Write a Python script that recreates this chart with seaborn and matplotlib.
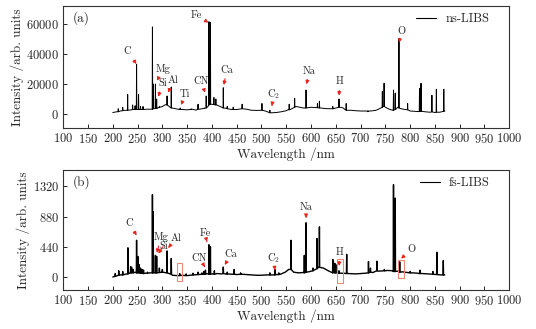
import numpy as np
import pandas as pd
import matplotlib
matplotlib.use("Agg")
import matplotlib.pyplot as plt
import seaborn as sns
from matplotlib.patches import Rectangle

# ---------------- data ----------------
# ns-LIBS: baseline knots
ns_base_wl = [200, 208, 215, 222, 230, 238, 245, 260, 268, 275, 290, 300, 306, 312, 320, 330, 340,
              350, 360, 368, 375, 385, 392, 400, 410, 420, 430, 440, 450, 460, 470, 480, 490, 500,
              510, 520, 530, 540, 550, 555, 562, 570, 578, 585, 600, 610, 620, 630, 640, 650, 660,
              665, 680, 690, 700, 710, 720, 730, 735, 745, 752, 758, 765, 775, 782, 790, 800,
              810, 818, 830, 840, 850, 860, 870]
ns_base_int = [1000, 1500, 2000, 2400, 2500, 2800, 3000, 3000, 3200, 3200, 3800, 5000, 6200, 5500, 4000, 3300, 3000,
               2800, 3200, 2600, 3200, 4000, 5000, 6500, 6000, 4500, 3800, 3000, 3000, 3500, 3200, 2500, 2400, 2500,
               1800, 800, 1000, 1500, 2200, 3000, 3600, 5000, 4500, 4000, 4500, 4300, 4000, 3600, 3500, 4000, 4500,
               4000, 2500, 2200, 2000, 2000, 2000, 2400, 3000, 5000, 4200, 3200, 2500, 4500, 3500, 3000, 2000,
               1800, 1600, 1500, 1200, 1000, 1200, 2000]
# ns-LIBS: emission lines (position, top, local base)
ns_peak_wl = [211, 220, 230, 240, 245, 248, 252, 256, 261, 280, 281.5, 286, 288.5, 294, 309.5, 318,
              336, 358, 372, 385, 388.5, 394, 397, 404, 408, 423, 431, 443, 461, 501, 517,
              556, 567, 590, 613, 617, 644, 656.5, 671, 715, 744, 747.5, 766.5, 770, 777.5,
              795, 819, 822, 844, 853, 868]
ns_peak_top = [3500, 4500, 13000, 6000, 5500, 33000, 13000, 5000, 5000, 58000, 20000, 20000, 10000, 5000, 12000, 18000,
               4000, 3500, 6500, 9000, 12000, 61500, 61000, 11000, 10000, 17500, 5000, 4500, 6500, 7000, 2500,
               6500, 10500, 16000, 7000, 8500, 5000, 10000, 7000, 1500, 15000, 20500, 16000, 14000, 50500,
               7000, 17000, 20500, 12500, 16500, 16500]
ns_peak_base = [1500, 2200, 2500, 3000, 3000, 3000, 3000, 3000, 3000, 3200, 3500, 3800, 3800, 4500, 6000, 4000,
                3000, 3000, 3200, 3800, 4000, 6000, 6500, 6300, 6000, 4000, 3500, 3000, 3500, 2500, 800,
                2800, 4500, 4000, 4200, 4000, 3500, 4500, 2500, 2000, 4500, 5000, 2500, 3000, 4000,
                2800, 1800, 1800, 1400, 1200, 1800]

# fs-LIBS: baseline knots
fs_base_wl = [200, 205, 215, 225, 235, 245, 255, 265, 275, 290, 300, 310, 320, 330, 340, 350, 360,
              370, 380, 390, 400, 410, 420, 430, 440, 450, 460, 470, 480, 490, 500, 510, 520, 530,
              540, 548, 555, 565, 575, 585, 595, 605, 615, 625, 635, 645, 655, 665, 675, 690, 700,
              710, 725, 735, 745, 755, 765, 775, 785, 795, 805, 815, 825, 835, 845, 855, 862, 870]
fs_base_int = [0, 10, 30, 40, 60, 70, 60, 55, 60, 60, 70, 45, 25, 20, 25, 20, 30,
               35, 40, 50, 45, 50, 45, 40, 40, 35, 40, 35, 30, 25, 25, 30, 30, 35,
               45, 70, 110, 70, 60, 65, 75, 95, 140, 130, 90, 70, 60, 55, 50, 45, 50,
               55, 65, 85, 90, 95, 90, 85, 75, 65, 60, 55, 50, 45, 40, 35, 30, 30]
# fs-LIBS: emission lines (position, top, local base)
fs_peak_wl = [205, 212, 220, 230.5, 236, 238, 241, 248, 250.5, 253, 256, 259, 262, 270, 280, 281.5, 286, 288.5, 294,
              300, 309.5, 318, 335, 348, 362, 372, 380, 384, 387, 394, 397, 405, 423, 431, 445, 458, 470,
              490, 517, 527, 535, 559.5, 586.5, 590, 604, 612, 617, 644, 648, 650, 656.5, 672, 690,
              716, 720, 733, 748, 766.5, 770, 779, 800, 820, 846, 854, 867]
fs_peak_top = [50, 90, 80, 425, 150, 140, 110, 535, 300, 180, 130, 110, 100, 70, 1200, 950, 315, 300, 130,
               110, 380, 270, 50, 45, 55, 70, 60, 80, 100, 470, 440, 90, 145, 70, 110, 60, 60,
               45, 60, 110, 60, 535, 315, 790, 130, 560, 730, 255, 200, 180, 90, 330, 70,
               225, 130, 230, 110, 1345, 1150, 220, 80, 100, 80, 360, 240]
fs_peak_base = [10, 25, 30, 45, 60, 60, 60, 60, 60, 60, 55, 55, 50, 55, 60, 60, 60, 60, 65,
                70, 60, 40, 20, 20, 30, 35, 40, 40, 40, 40, 40, 40, 50, 45, 40, 40, 35,
                25, 30, 30, 35, 110, 60, 70, 90, 120, 140, 60, 60, 60, 55, 50, 45,
                60, 70, 90, 90, 80, 80, 70, 60, 50, 40, 35, 30]

# annotations: label, label centre (wl, intensity), arrow tip (wl, intensity)
ns_labels = ["C", "Mg", "Si", "Al", "Ti", "CN", "Fe", "Ca", "C$_2$", "Na", "H", "O"]
ns_lab_pos = [(229, 41500), (302, 29800), (300, 20500), (321, 22700), (346, 13100), (379, 21800),
              (368, 66000), (430, 29300), (525, 13100), (597, 28700), (657, 21500), (782, 54900)]
ns_arrow_tip = [(248, 33300), (289, 22200), (292, 11500), (312, 14200), (338, 6000), (386, 14200),
                (393, 60900), (424, 19300), (521, 5300), (591, 19800), (657, 12200), (778, 47500)]

fs_labels = ["C", "Mg", "Si", "Al", "CN", "Fe", "Ca", "C$_2$", "Na", "H", "O"]
fs_lab_pos = [(233, 790), (297, 580), (302, 450), (327, 560), (374, 280), (386, 630),
              (438, 330), (525, 280), (590, 1015), (657, 355), (803, 410)]
fs_arrow_tip = [(248, 605), (289, 350), (292, 340), (312, 425), (386, 145), (390, 513),
                (426, 175), (527, 97), (590, 860), (657, 160), (782, 267)]

fs_boxes = [(329, 340, -58, 209), (653, 664, -81, 257), (775, 787, -19, 246)]

# ---------------- build series ----------------
def assemble(bw, bi, pw, pt, pb):
    xs = list(bw)
    ys = list(bi)
    for w, t, b in zip(pw, pt, pb):
        xs += [w - 0.5, w, w + 0.5]
        ys += [b, t, b]
    df = pd.DataFrame({"Wavelength": xs, "Intensity": ys})
    return df.sort_values("Wavelength").drop_duplicates("Wavelength")

ns_df = assemble(ns_base_wl, ns_base_int, ns_peak_wl, ns_peak_top, ns_peak_base)
fs_df = assemble(fs_base_wl, fs_base_int, fs_peak_wl, fs_peak_top, fs_peak_base)

# ---------------- plot ----------------
sns.set_theme(style="ticks")
plt.rcParams["font.family"] = ["cmr10", "DejaVu Serif"]
plt.rcParams["mathtext.fontset"] = "cm"
plt.rcParams["axes.formatter.use_mathtext"] = True
plt.rcParams["axes.unicode_minus"] = False

fs = 9
fig = plt.figure(figsize=(5.36, 3.29), dpi=100)
ax1 = fig.add_axes([0.118, 0.611, 0.832, 0.371])
ax2 = fig.add_axes([0.118, 0.1185, 0.832, 0.365])

red = "#e8241c"

def style(ax, ylim, yticks, tag, legend, legy):
    ax.set_xlim(100, 1000)
    ax.set_ylim(*ylim)
    ax.set_xticks(np.arange(100, 1001, 50))
    ax.set_yticks(yticks)
    ax.tick_params(direction="in", length=3, width=0.7, labelsize=fs, pad=3)
    for s in ax.spines.values():
        s.set_linewidth(0.8)
        s.set_color("#333333")
    ax.set_xlabel("Wavelength /nm", fontsize=fs + 0.5, labelpad=1)
    ax.set_ylabel("Intensity /arb. units", fontsize=fs + 0.5, labelpad=2)
    ax.text(0.022, 0.9, tag, transform=ax.transAxes, fontsize=fs + 0.5, va="center", ha="left")
    if ax.get_legend() is not None:
        ax.get_legend().remove()
    leg = ax.legend([legend], loc="center right", frameon=False, fontsize=fs,
                    handlelength=1.6, handletextpad=0.7, borderpad=0, borderaxespad=0,
                    bbox_to_anchor=(0.955, legy))
    for l in leg.get_lines():
        l.set_linewidth(0.8)

sns.lineplot(data=ns_df, x="Wavelength", y="Intensity", ax=ax1, color="black",
             lw=0.7, estimator=None, sort=False, label="ns-LIBS")
style(ax1, (-9300, 72000), [0, 20000, 40000, 60000], "(a)", "ns-LIBS", 0.893)

sns.lineplot(data=fs_df, x="Wavelength", y="Intensity", ax=ax2, color="black",
             lw=1.0, estimator=None, sort=False, label="fs-LIBS")
style(ax2, (-190, 1560), [0, 440, 880, 1320], "(b)", "fs-LIBS", 0.889)

def annotate(ax, labels, pos, tips):
    for lab, p, t in zip(labels, pos, tips):
        ax.annotate(lab, xy=t, xytext=p, fontsize=7.5, ha="center", va="center",
                    zorder=5,
                    arrowprops=dict(arrowstyle="-|>", color=red, lw=0.8,
                                    mutation_scale=5, shrinkA=0.5, shrinkB=0))

annotate(ax1, ns_labels, ns_lab_pos, ns_arrow_tip)
annotate(ax2, fs_labels, fs_lab_pos, fs_arrow_tip)

for x0, x1, y0, y1 in fs_boxes:
    ax2.add_patch(Rectangle((x0, y0), x1 - x0, y1 - y0, fill=False, ec="#f08878",
                            lw=0.8, zorder=4))

fig.savefig("out.png", dpi=100)
